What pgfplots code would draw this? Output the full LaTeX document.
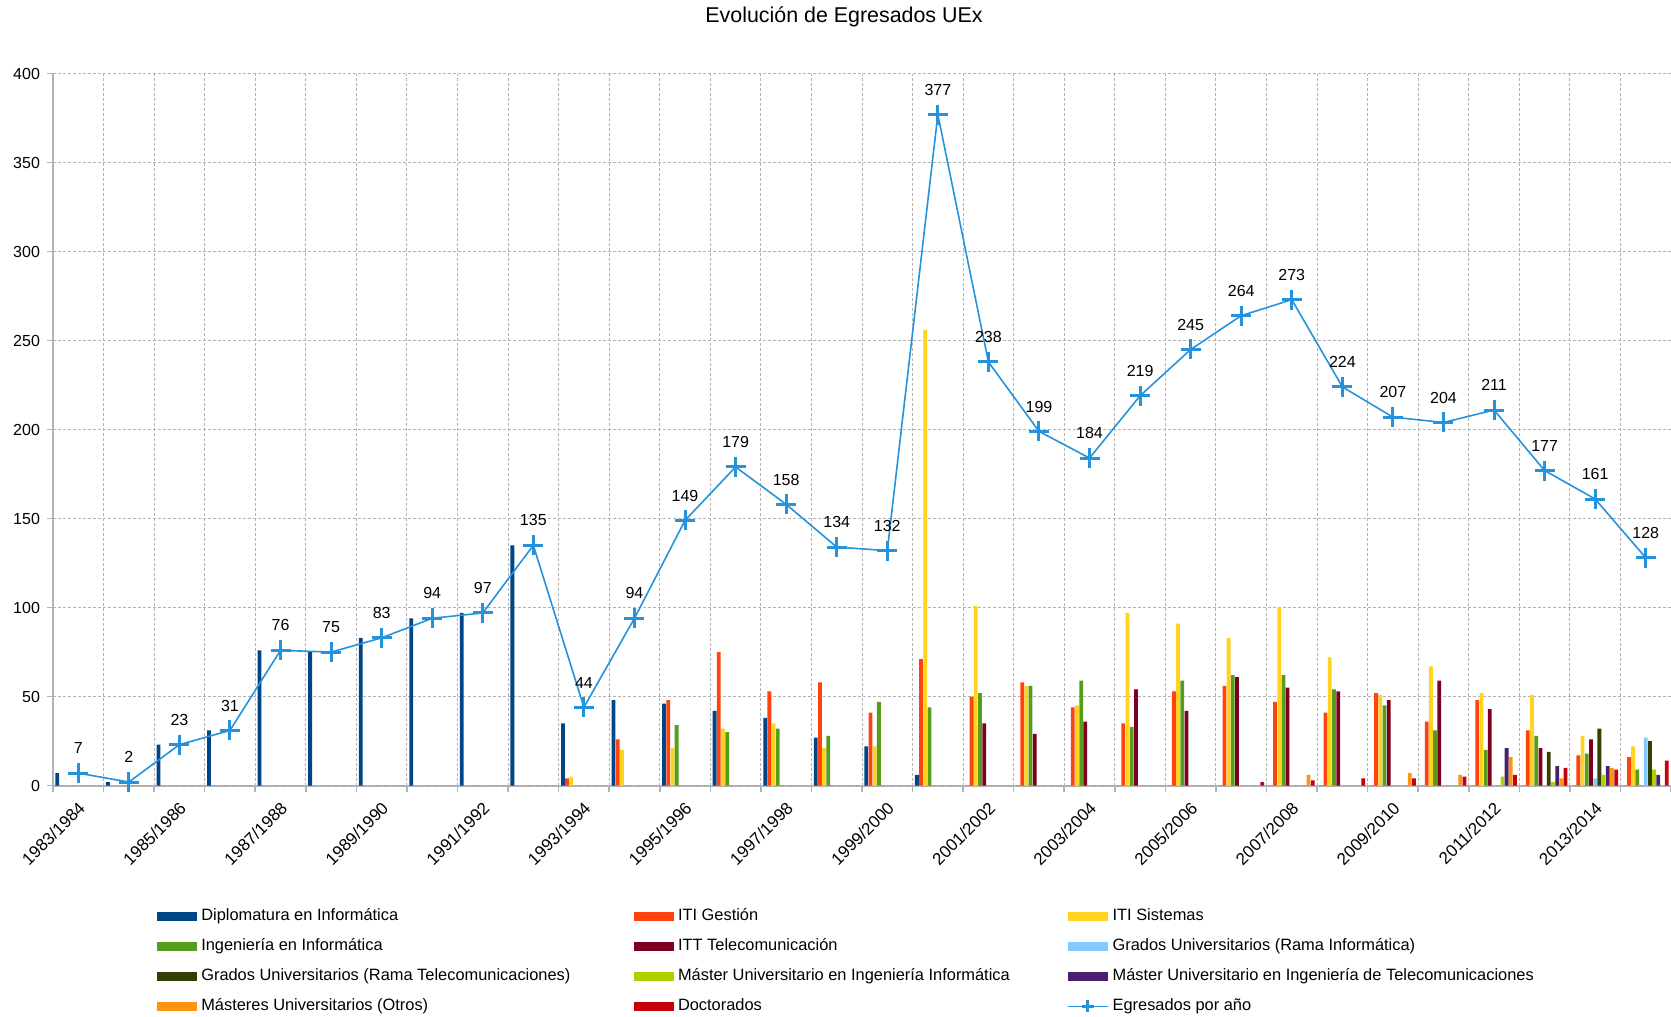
\documentclass[border=0pt]{standalone}
\usepackage{fontspec}
\setmainfont{Liberation Sans}
\usepackage{pgfplots}
\usepackage{pgfplotstable}
\pgfplotsset{compat=1.18}

\definecolor{cDip}{HTML}{004586}
\definecolor{cGes}{HTML}{FF420E}
\definecolor{cSis}{HTML}{FFD320}
\definecolor{cIng}{HTML}{579D1C}
\definecolor{cItt}{HTML}{7E0021}
\definecolor{cGri}{HTML}{83CAFF}
\definecolor{cGrt}{HTML}{314004}
\definecolor{cMii}{HTML}{AECF00}
\definecolor{cMit}{HTML}{4B1F6F}
\definecolor{cMot}{HTML}{FF950E}
\definecolor{cDoc}{HTML}{C5000B}
\definecolor{cTot}{HTML}{2593DB}
\definecolor{cGrid}{HTML}{B3B3B3}

% graduates per course and degree
\pgfplotstableread{
x  dip ges sis ing itt gri grt mii mit mot doc tot
0    7   0   0   0   0   0   0   0   0   0   0   7
1    2   0   0   0   0   0   0   0   0   0   0   2
2   23   0   0   0   0   0   0   0   0   0   0  23
3   31   0   0   0   0   0   0   0   0   0   0  31
4   76   0   0   0   0   0   0   0   0   0   0  76
5   75   0   0   0   0   0   0   0   0   0   0  75
6   83   0   0   0   0   0   0   0   0   0   0  83
7   94   0   0   0   0   0   0   0   0   0   0  94
8   97   0   0   0   0   0   0   0   0   0   0  97
9  135   0   0   0   0   0   0   0   0   0   0 135
10  35   4   5   0   0   0   0   0   0   0   0  44
11  48  26  20   0   0   0   0   0   0   0   0  94
12  46  48  21  34   0   0   0   0   0   0   0 149
13  42  75  32  30   0   0   0   0   0   0   0 179
14  38  53  35  32   0   0   0   0   0   0   0 158
15  27  58  21  28   0   0   0   0   0   0   0 134
16  22  41  22  47   0   0   0   0   0   0   0 132
17   6  71 256  44   0   0   0   0   0   0   0 377
18   0  50 101  52  35   0   0   0   0   0   0 238
19   0  58  56  56  29   0   0   0   0   0   0 199
20   0  44  45  59  36   0   0   0   0   0   0 184
21   0  35  97  33  54   0   0   0   0   0   0 219
22   0  53  91  59  42   0   0   0   0   0   0 245
23   0  56  83  62  61   0   0   0   0   0   2 264
24   0  47 100  62  55   0   0   0   0   6   3 273
25   0  41  72  54  53   0   0   0   0   0   4 224
26   0  52  51  45  48   0   0   0   0   7   4 207
27   0  36  67  31  59   0   0   0   0   6   5 204
28   0  48  52  20  43   0   0   5  21  16   6 211
29   0  31  51  28  21   0  19   2  11   4  10 177
30   0  17  28  18  26   4  32   6  11  10   9 161
31   0  16  22   9   0  27  25   9   6   0  14 128
}\egresados

\pgfplotsset{
  bar/.style={ybar, bar width=0.075, bar shift=#1, draw=none,
    legend image code/.code={\fill[##1,draw=none] (0pt,-2.2pt) rectangle (20pt,2.2pt);}},
  totleg/.style={legend image code/.code={\draw[##1, mark size=3pt, mark repeat=2, mark phase=2]
      plot coordinates {(0pt,0pt) (10pt,0pt) (20pt,0pt)};}},
}

\begin{document}
\begin{tikzpicture}
\useasboundingbox (0,0) rectangle (835.5pt,508.5pt);
\node[font=\fontsize{10.7}{12}\selectfont] at (422pt,500pt) {Evolución de Egresados UEx};
\begin{axis}[
    at={(26.5pt,115.7pt)}, anchor=south west,
    scale only axis, width=809pt, height=356pt,
    xmin=-0.5, xmax=31.5, ymin=0, ymax=400,
    clip=false,
    axis x line*=bottom, axis y line*=left,
    axis line style={draw=cGrid, line width=1pt, -},
    xtick={0,2,...,30},
    xticklabels={1983/1984,1985/1986,1987/1988,1989/1990,1991/1992,1993/1994,
      1995/1996,1997/1998,1999/2000,2001/2002,2003/2004,2005/2006,2007/2008,
      2009/2010,2011/2012,2013/2014},
    minor xtick={-0.5,0.5,...,31.5},
    xminorgrids, ymajorgrids,
    ytick={0,50,...,400},
    tick align=outside,
    major tick length=3pt, minor tick length=3pt,
    major x tick style={draw=none},
    minor x tick style={draw=cGrid, line width=0.8pt},
    major y tick style={draw=cGrid, line width=0.8pt},
    grid style={cGrid, dash pattern=on 1.5pt off 1pt, line width=0.5pt},
    minor grid style={cGrid, dash pattern=on 1.5pt off 1pt, line width=0.5pt},
    /pgf/number format/assume math mode=true,
    yticklabel style={font=\fontsize{8}{9}\selectfont},
    xticklabel style={font=\fontsize{8.5}{9}\selectfont, rotate=45, anchor=east, yshift=-6pt},
    legend columns=3,
    legend cell align=left,
    legend style={at={(rel axis cs:0.0605,-0.161)}, anchor=north west, draw=none, fill=none,
      font=\fontsize{8.2}{9.5}\selectfont, row sep=3.5pt,
      /tikz/column 2/.append style={column sep=29.8pt},
      /tikz/column 4/.append style={column sep=26.6pt}},
]
\addplot[bar=-0.415, fill=cDip] table[x=x,y=dip] {\egresados};
\addlegendentry{Diplomatura en Informática}
\addplot[bar=-0.332, fill=cGes] table[x=x,y=ges] {\egresados};
\addlegendentry{ITI Gestión}
\addplot[bar=-0.249, fill=cSis] table[x=x,y=sis] {\egresados};
\addlegendentry{ITI Sistemas}
\addplot[bar=-0.166, fill=cIng] table[x=x,y=ing] {\egresados};
\addlegendentry{Ingeniería en Informática}
\addplot[bar=-0.083, fill=cItt] table[x=x,y=itt] {\egresados};
\addlegendentry{ITT Telecomunicación}
\addplot[bar=0, fill=cGri] table[x=x,y=gri] {\egresados};
\addlegendentry{Grados Universitarios (Rama Informática)}
\addplot[bar=0.083, fill=cGrt] table[x=x,y=grt] {\egresados};
\addlegendentry{Grados Universitarios (Rama Telecomunicaciones)}
\addplot[bar=0.166, fill=cMii] table[x=x,y=mii] {\egresados};
\addlegendentry{Máster Universitario en Ingeniería Informática}
\addplot[bar=0.249, fill=cMit] table[x=x,y=mit] {\egresados};
\addlegendentry{Máster Universitario en Ingeniería de Telecomunicaciones}
\addplot[bar=0.332, fill=cMot] table[x=x,y=mot] {\egresados};
\addlegendentry{Másteres Universitarios (Otros)}
\addplot[bar=0.415, fill=cDoc] table[x=x,y=doc] {\egresados};
\addlegendentry{Doctorados}
\addplot[sharp plot, totleg, color=cTot, line width=0.8pt, mark=+, mark size=5pt,
    mark options={line width=1.5pt},
    nodes near coords,
    every node near coord/.append style={font=\fontsize{8}{9}\selectfont, text=black, yshift=5.5pt}]
    table[x=x,y=tot] {\egresados};
\addlegendentry{Egresados por año}
\end{axis}
\end{tikzpicture}
\end{document}
